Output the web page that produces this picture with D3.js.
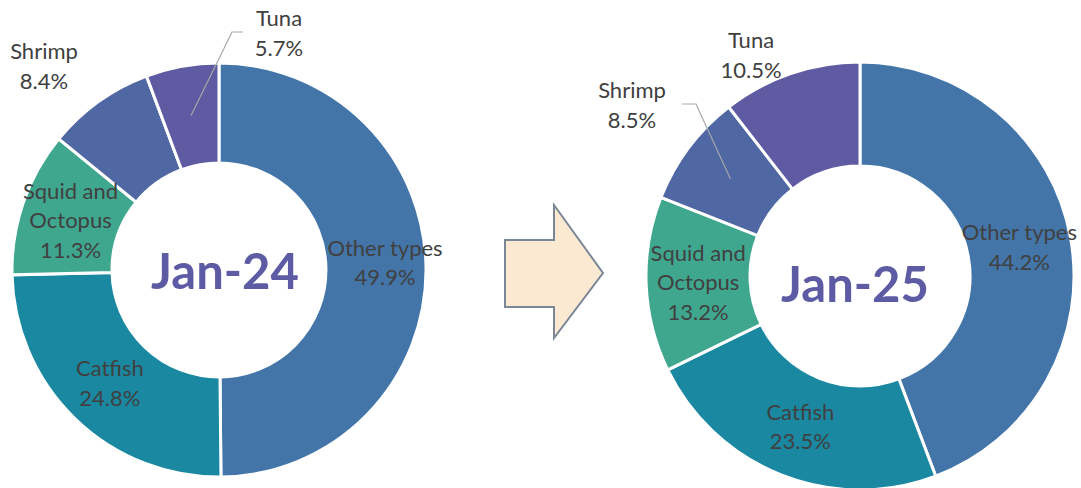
<!DOCTYPE html>
<html>
<head>
<meta charset="utf-8">
<script src="https://cdn.jsdelivr.net/npm/d3@7"></script>
<style>
  html, body { margin: 0; padding: 0; background: #ffffff; }
  svg { display: block; }
</style>
</head>
<body>
<svg id="chart" width="1081" height="488"></svg>
<script>
// ---------- DATA ----------
const categories = ["Other types", "Catfish", "Squid and Octopus", "Shrimp", "Tuna"];
const labelLines = [["Other types"], ["Catfish"], ["Squid and", "Octopus"], ["Shrimp"], ["Tuna"]];
const jan24Values = [49.9, 24.8, 11.3, 8.4, 5.7];
const jan25Values = [44.2, 23.5, 13.2, 8.5, 10.5];
const chartTitles = ["Jan-24", "Jan-25"];

// ---------- STYLE / LAYOUT ----------
const sliceColors = ["#4375A9", "#1A88A0", "#40A78F", "#4F67A3", "#5E5BA3"];
const titleColor = "#5E5BA5";
const textColor = "#404040";
const leaderColor = "#A6A6A6";
const labelFont = "Lato, 'Open Sans', sans-serif";
const lineH = 29.5;

const charts = [
  {
    title: chartTitles[0], values: jan24Values,
    cx: 219, cy: 270, rOut: 207, rIn: 107,
    titleOffset: [6, 19],
    nudges: { "Other types": [9, -7], "Squid and Octopus": [0, 1.5], "Catfish": [0, 0] },
    outside: {
      "Shrimp": { offset: [-175, -204] },
      "Tuna": { offset: [60, -237], leader: [[-47, -1], [-36, -1]] }
    }
  },
  {
    title: chartTitles[1], values: jan25Values,
    cx: 860, cy: 276, rOut: 214, rIn: 110,
    titleOffset: [-5, 26],
    nudges: {},
    outside: {
      "Shrimp": { offset: [-228, -171], leader: [[64, -1], [50, -1]] },
      "Tuna": { offset: [-109, -221] }
    }
  }
];

const svg = d3.select("#chart");

const pie = d3.pie().sort(null).value(d => d.value);

charts.forEach(ch => {
  const g = svg.append("g").attr("transform", `translate(${ch.cx},${ch.cy})`);
  const arc = d3.arc().innerRadius(ch.rIn).outerRadius(ch.rOut);
  const data = pie(ch.values.map((v, i) => ({ value: v, cat: categories[i], lines: labelLines[i], color: sliceColors[i] })));

  g.selectAll("path.slice")
    .data(data)
    .join("path")
    .attr("class", "slice")
    .attr("d", arc)
    .attr("fill", d => d.data.color)
    .attr("stroke", "#ffffff")
    .attr("stroke-width", 3)
    .attr("stroke-linejoin", "miter");

  // leader lines
  data.forEach(d => {
    const o = ch.outside[d.data.cat];
    if (o && o.leader) {
      const c = arc.centroid(d);
      const pts = [c, ...o.leader.map(p => [o.offset[0] + p[0], o.offset[1] + p[1]])];
      g.append("path")
        .attr("d", d3.line()(pts))
        .attr("fill", "none")
        .attr("stroke", leaderColor)
        .attr("stroke-width", 1.2);
    }
  });

  // labels
  data.forEach(d => {
    const o = ch.outside[d.data.cat];
    let p;
    if (o) {
      p = o.offset;
    } else {
      const c = arc.centroid(d);
      const n = ch.nudges[d.data.cat] || [0, 0];
      p = [c[0] + n[0], c[1] + n[1]];
    }
    const lines = [...d.data.lines, d.data.value.toFixed(1) + "%"];
    const firstBase = p[1] - (lines.length - 1) * lineH / 2 + 8;
    const t = g.append("text")
      .attr("text-anchor", "middle")
      .attr("font-family", labelFont)
      .attr("font-size", 22)
      .attr("fill", textColor);
    lines.forEach((ln, i) => {
      t.append("tspan")
        .attr("x", p[0])
        .attr("y", firstBase + i * lineH)
        .text(ln);
    });
  });

  // center title
  g.append("text")
    .attr("x", ch.titleOffset[0])
    .attr("y", ch.titleOffset[1])
    .attr("text-anchor", "middle")
    .attr("font-family", labelFont)
    .attr("font-weight", 700)
    .attr("font-size", 49)
    .attr("fill", titleColor)
    .text(ch.title);
});

// ---------- ARROW ----------
const arrow = { x0: 505, x1: 554, x2: 603, shaftTop: 240, shaftBot: 307, headTop: 205, headBot: 338, tipY: 273 };
const arrowPts = [
  [arrow.x0, arrow.shaftTop], [arrow.x1, arrow.shaftTop], [arrow.x1, arrow.headTop],
  [arrow.x2, arrow.tipY], [arrow.x1, arrow.headBot], [arrow.x1, arrow.shaftBot],
  [arrow.x0, arrow.shaftBot]
];
svg.append("path")
  .attr("d", d3.line()(arrowPts) + "Z")
  .attr("fill", "#FCE9D2")
  .attr("stroke", "#7A8796")
  .attr("stroke-width", 2)
  .attr("stroke-linejoin", "miter");
</script>
</body>
</html>
